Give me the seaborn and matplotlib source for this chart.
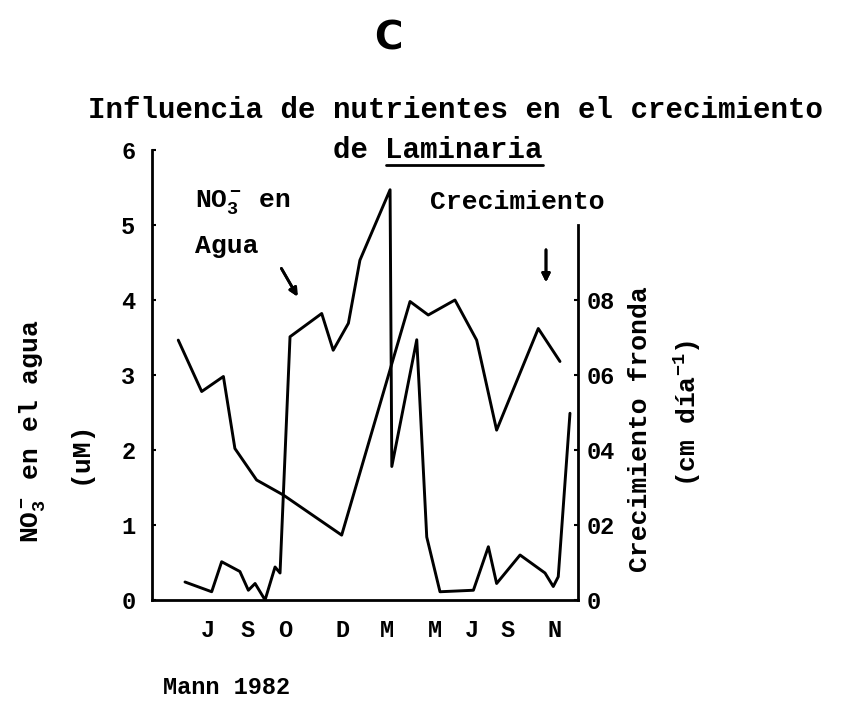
import matplotlib
matplotlib.use("Agg")
import matplotlib.pyplot as plt
import numpy as np
import pandas as pd
import seaborn as sns
from matplotlib.lines import Line2D

# months counted from July of the first year
nitrate_month = [-1.06, 0.17, 0.63, 1.47, 1.86, 2.17, 2.63, 3.09, 3.32, 3.78,
                 5.24, 5.77, 6.47, 7.00, 8.39, 8.47, 9.62, 10.08, 10.69,
                 12.23, 12.92, 13.30, 14.38, 15.53, 15.91, 16.14, 16.68]
nitrate_uM = [0.24, 0.11, 0.51, 0.38, 0.13, 0.22, 0.0, 0.44, 0.36, 3.51,
              3.82, 3.33, 3.69, 4.53, 5.47, 1.78, 3.47, 0.84, 0.11,
              0.13, 0.71, 0.22, 0.60, 0.36, 0.18, 0.31, 2.49]

growth_month = [-1.37, -0.29, 0.71, 1.24, 2.24, 3.47, 6.16, 9.31, 10.15,
                11.38, 12.38, 13.30, 15.22, 16.22]
growth_cm = [0.693, 0.556, 0.596, 0.404, 0.32, 0.28, 0.173, 0.796, 0.76,
             0.80, 0.693, 0.453, 0.724, 0.636]

month_ticks = [0, 1.84, 3.57, 6.22, 8.25, 10.46, 12.16, 13.82, 15.99]
month_labels = ["J", "S", "O", "D", "M", "M", "J", "S", "N"]
left_ticks = [0, 1, 2, 3, 4, 5, 6]
right_ticks = [0, 0.2, 0.4, 0.6, 0.8]
right_labels = ["0", "02", "04", "06", "08"]

sns.set_style("white")
plt.rcParams["font.family"] = ["Liberation Mono", "DejaVu Sans"]
plt.rcParams["font.weight"] = "bold"
plt.rcParams["text.color"] = "black"
plt.rcParams["xtick.color"] = "black"
plt.rcParams["ytick.color"] = "black"
plt.rcParams["mathtext.fontset"] = "custom"
plt.rcParams["mathtext.rm"] = "Liberation Mono:bold"
plt.rcParams["mathtext.it"] = "Liberation Mono:bold"
plt.rcParams["mathtext.bf"] = "Liberation Mono:bold"

W, H = 851, 704
fig = plt.figure(figsize=(W / 100, H / 100), dpi=100)
fig.patch.set_facecolor("white")


def fx(px):
    return px / W


def fy(py):
    return 1 - py / H


ax = fig.add_axes([fx(152), fy(600), fx(578) - fx(152), fy(150) - fy(600)])
ax2 = ax.twinx()

df_n = pd.DataFrame({"mes": nitrate_month, "no3": nitrate_uM})
df_g = pd.DataFrame({"mes": growth_month, "crec": growth_cm})

sns.lineplot(data=df_n, x="mes", y="no3", ax=ax, color="black", lw=2.1,
             sort=False, estimator=None)
sns.lineplot(data=df_g, x="mes", y="crec", ax=ax2, color="black", lw=2.1,
             sort=False, estimator=None)

ax.set_xlim(-2.58, 17.05)
ax.set_ylim(0, 6)
ax2.set_ylim(0, 1.2)

for a in (ax, ax2):
    a.set_xlabel("")
    a.set_ylabel("")
    a.set_facecolor("none")
    for s in a.spines.values():
        s.set_color("black")
        s.set_linewidth(2.0)
    a.spines["top"].set_visible(False)

ax.spines["right"].set_visible(False)
ax2.spines["left"].set_visible(False)
ax2.spines["bottom"].set_visible(False)
ax2.spines["right"].set_bounds(0, 1.0)

ax.set_xticks(month_ticks)
ax.set_xticklabels(month_labels)
ax.set_xticks(np.arange(-1, 17), minor=True)
ax.tick_params(axis="x", which="major", length=0, pad=14, labelsize=17)
ax.tick_params(axis="x", which="minor", length=3, width=2, direction="out")
ax.set_yticks(left_ticks)
ax.tick_params(axis="y", which="major", length=3, width=1.5, direction="in",
               pad=12, labelsize=17, left=True)
ax2.set_yticks(right_ticks)
ax2.set_yticklabels(right_labels)
ax2.tick_params(axis="y", which="major", length=3, width=1.5, direction="in",
                pad=6, labelsize=17, right=True)

# headings
fig.text(fx(388), fy(38), "C", family="DejaVu Sans", weight="bold",
         fontsize=28, ha="center", va="center")
fig.text(fx(456), fy(110), "Influencia de nutrientes en el crecimiento",
         fontsize=21, ha="center", va="center")
t_de = fig.text(fx(333), fy(150), "de ", fontsize=21, ha="left", va="center")
fig.canvas.draw()
r = fig.canvas.get_renderer()
bb = t_de.get_window_extent(r)
t_lam = fig.text(bb.x1 / W, fy(150), "Laminaria", fontsize=21,
                 ha="left", va="center")
bl = t_lam.get_window_extent(r)
fig.add_artist(Line2D([bl.x0 / W, bl.x1 / W], [fy(165), fy(165)],
                      color="black", lw=2, transform=fig.transFigure))

# in-plot labels
fig.text(fx(195), fy(202), r"NO$_3^-$ en", fontsize=19, ha="left", va="center")
fig.text(fx(195), fy(246), "Agua", fontsize=19, ha="left", va="center")
fig.text(fx(430), fy(202), "Crecimiento", fontsize=19, ha="left", va="center")
fig.add_artist(plt.annotate("", xy=(fx(299), fy(299)), xytext=(fx(280), fy(266)),
                            xycoords="figure fraction", textcoords="figure fraction",
                            arrowprops=dict(arrowstyle="-|>", color="black", lw=2,
                                            mutation_scale=12)))
fig.add_artist(plt.annotate("", xy=(fx(546), fy(285)), xytext=(fx(546), fy(247)),
                            xycoords="figure fraction", textcoords="figure fraction",
                            arrowprops=dict(arrowstyle="-|>", color="black", lw=2,
                                            mutation_scale=12)))

# axis titles
fig.text(fx(32), fy(431), r"NO$_3^-$ en el agua", fontsize=19, rotation=90,
         ha="center", va="center")
fig.text(fx(80), fy(452), "(uM)", fontsize=19, rotation=90,
         ha="center", va="center")
fig.text(fx(640), fy(429), "Crecimiento fronda", fontsize=19, rotation=90,
         ha="center", va="center")
fig.text(fx(688), fy(413), r"(cm día$^{-1}$)", fontsize=19, rotation=90,
         ha="center", va="center")

fig.text(fx(163), fy(688), "Mann 1982", fontsize=17, ha="left", va="center")

fig.savefig("out.png", dpi=100, facecolor="white")
